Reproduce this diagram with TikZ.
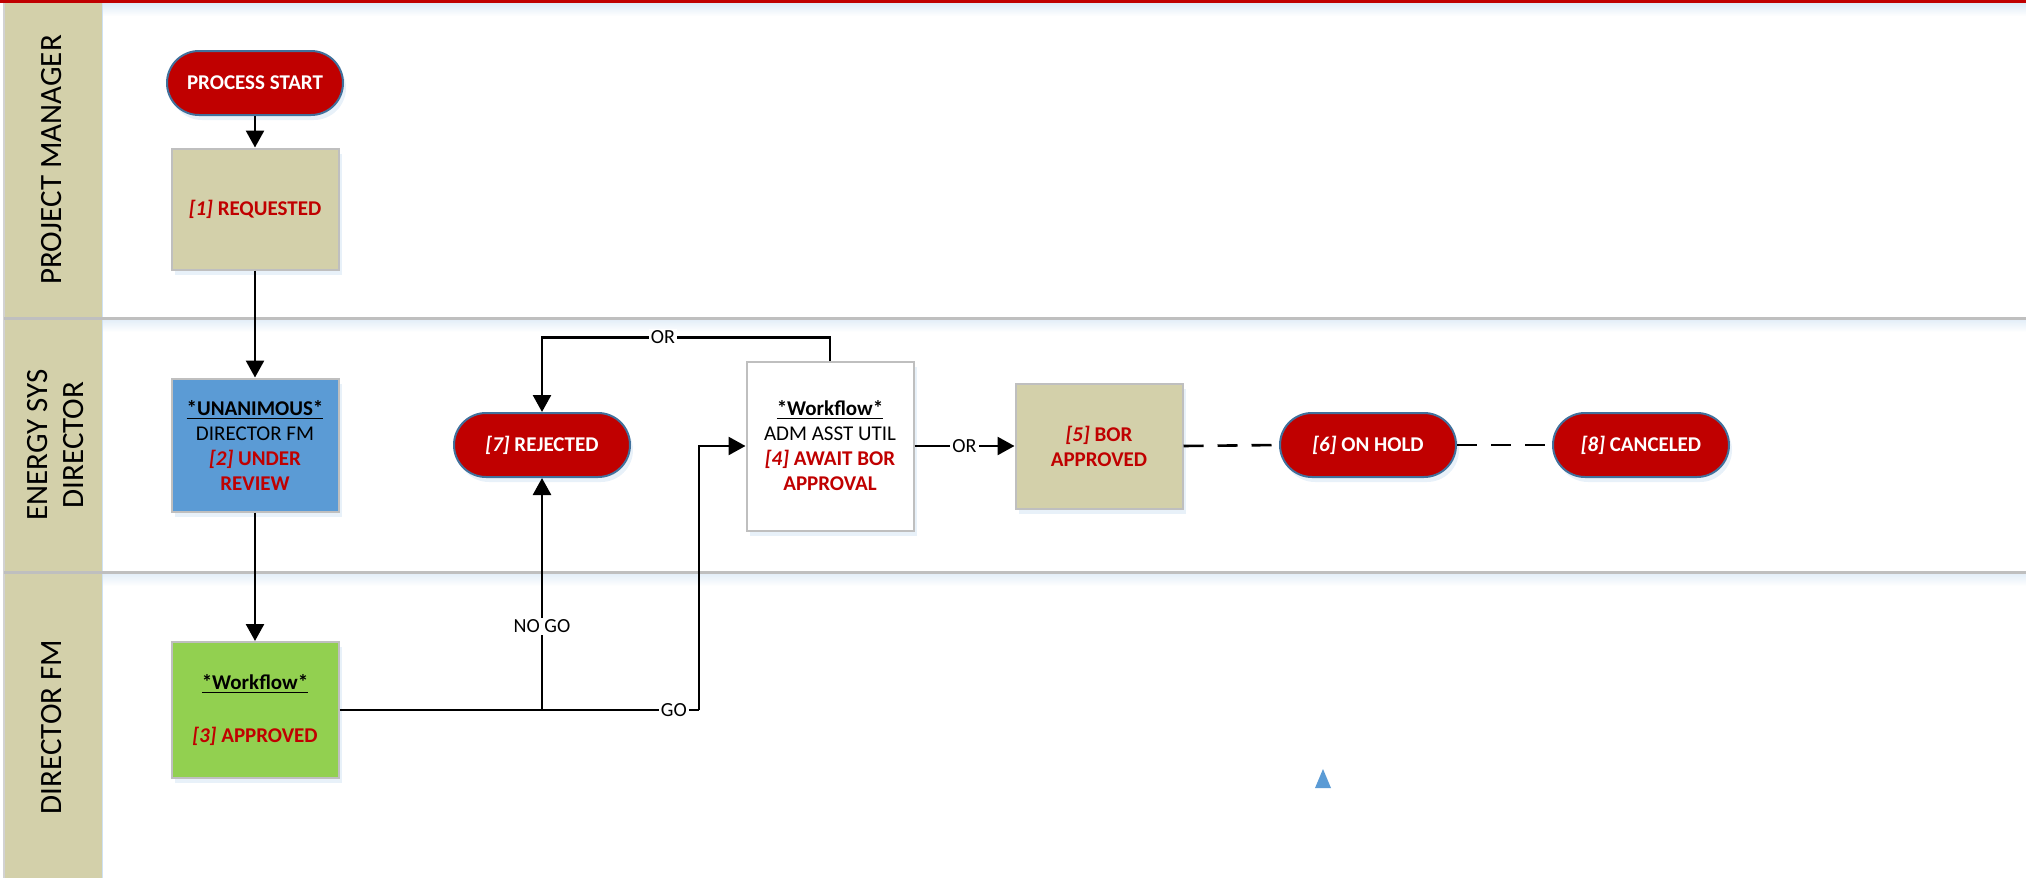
\documentclass[tikz,border=0pt]{standalone}
\usepackage{fontspec}
\setmainfont{Carlito}
\usepackage{tikz}
\usetikzlibrary{arrows.meta}
\usetikzlibrary{shadows}
\definecolor{sred}{HTML}{C00000}
\definecolor{stan}{HTML}{D3D0AA}
\definecolor{sblue}{HTML}{5B9BD5}
\definecolor{sgreen}{HTML}{92D050}
\definecolor{sedge}{HTML}{41719C}
\definecolor{sgray}{HTML}{BFBFBF}
\newcommand{\stnum}[1]{\textit{[#1]}}
\newcommand{\wfhead}[1]{{\color{black}\underline{#1}}}
\newcommand{\plain}[1]{{\mdseries\color{black}#1}}

\begin{document}
\begin{tikzpicture}[x=0.5pt,y=-0.5pt,
	lanetxt/.style={rotate=90,align=center,font=\fontsize{15.5}{18}\selectfont},
	statebox/.style={draw=sgray,line width=1pt,minimum width=83.5pt,align=center,text=sred,
		font=\fontsize{10.5}{12.5}\selectfont\bfseries,
		drop shadow={shadow xshift=1.5pt,shadow yshift=-2.5pt,fill=sblue!40,opacity=0.35}},
	term/.style={fill=sred,draw=sedge,line width=1pt,rounded corners=16pt,minimum width=88pt,
		minimum height=32pt,text=white,font=\fontsize{10.5}{12.5}\selectfont\bfseries,
		drop shadow={shadow xshift=1.5pt,shadow yshift=-2.5pt,fill=sblue!40,opacity=0.35}},
	conn/.style={line width=1.3pt,-{Triangle[width=9pt,length=8.5pt]}},
	link/.style={line width=1.3pt},
	lbl/.style={fill=white,inner sep=1pt,font=\fontsize{10}{12}\selectfont}]
	\useasboundingbox (0,0) rectangle (2026,878);
	% lanes
	\fill[stan] (4,3) rectangle (102,878);
	\draw[sgray!70,line width=0.6pt] (4,3) -- (4,878);
	\draw[sblue!30,line width=0.8pt] (102.5,3) -- (102.5,878);
	\shade[top color=sblue!22,bottom color=white] (103,2) rectangle (2026,16);
	\shade[top color=sblue!18,bottom color=white] (103,319) rectangle (2026,332);
	\shade[top color=sblue!18,bottom color=white] (103,573) rectangle (2026,586);
	\draw[sred,line width=1.5pt] (0,1.5) -- (2026,1.5);
	\draw[sgray,line width=1.5pt] (4,318) -- (2026,318);
	\draw[sgray,line width=1.5pt] (4,572) -- (2026,572);
	\node[lanetxt] (l1) at (52,160) {PROJECT MANAGER};
	\node[lanetxt] (l2) at (56,445) {ENERGY SYS\\DIRECTOR};
	\node[lanetxt] (l3) at (52,727) {DIRECTOR FM};
	% states
	\node[term] (n0) at (255,83) {PROCESS START};
	\node[statebox,fill=stan,minimum height=60.5pt] (n1) at (255,209) {\stnum{1} REQUESTED};
	\node[statebox,fill=sblue,minimum height=66.5pt] (n2) at (255,445)
		{\wfhead{*UNANIMOUS*}\\\plain{DIRECTOR FM}\\\stnum{2} UNDER\\REVIEW};
	\node[statebox,fill=sgreen,minimum height=68pt] (n3) at (255,710)
		{\wfhead{*Workflow*}\\[14pt]\stnum{3} APPROVED};
	\node[term] (n7) at (542,445) {\stnum{7} REJECTED};
	\node[statebox,fill=white,minimum height=84.5pt] (n4) at (830,446)
		{\wfhead{*Workflow*}\\\plain{ADM ASST UTIL}\\\stnum{4} AWAIT BOR\\APPROVAL};
	\node[statebox,fill=stan,minimum height=62.5pt] (n5) at (1099,446) {\stnum{5} BOR\\APPROVED};
	\node[term] (n6) at (1368,445) {\stnum{6} ON HOLD};
	\node[term] (n8) at (1641,445) {\stnum{8} CANCELED};
	\fill[sblue] (1315,788) -- (1331,788) -- (1323,769) -- cycle;
	% flow
	\draw[conn] (n0) -- (n1);
	\draw[conn] (n1) -- (n2);
	\draw[conn] (n2) -- (n3);
	\coordinate (jn) at (n7 |- n3.east);
	\coordinate (gc) at (699,710);
	\draw[link] (n3.east) -- (jn) -- node[lbl,pos=0.84] {GO} (gc);
	\draw[conn] (gc) -- (gc |- n4.west) -- (n4.west);
	\draw[conn] (jn) -- node[lbl,pos=0.36] {NO GO} (n7.south);
	\draw[conn] (n4.east) -- node[lbl] {OR} (n5.west);
	\draw[conn] (n4.north) -- ++(0,-23) -| node[lbl,pos=0.29] {OR} (n7.north);
	\draw[link,dash pattern=on 10pt off 7pt] (n5.east) -- (n6.west);
	\draw[link,dash pattern=on 10pt off 7pt] (n6.east) -- (n8.west);
\end{tikzpicture}
\end{document}
